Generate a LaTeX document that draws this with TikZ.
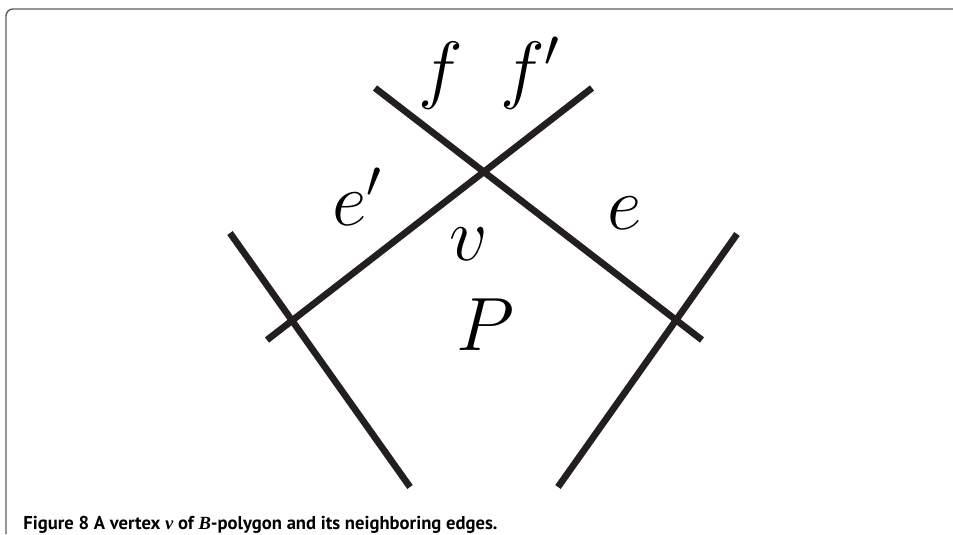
\RequirePackage{fix-cm}
\documentclass[tikz,border=0pt]{standalone}
\usepackage{fontspec}
\setsansfont{PT Sans}
\newfontfamily\capserif{Liberation Serif}
\usetikzlibrary{calc}
\definecolor{inkx}{HTML}{231F20}
\definecolor{framex}{HTML}{5E5E5E}
\tikzset{
  edgeln/.style={line width=3.8pt,inkx},
  lbl/.style={anchor=base,inner sep=0pt,font=\fontsize{43}{50}\selectfont},
  framel/.style={framex,line width=0.8pt,rounded corners=4pt},
  capt/.style={anchor=base west,inner sep=0pt,font=\sffamily\bfseries\fontsize{10.6}{12}\selectfont}
}
\begin{document}
\begin{tikzpicture}[x=0.02cm,y=-0.02cm]
\useasboundingbox (0,0) rectangle (953,534);
% frame round the figure
\draw[framel] (6,534) -- (6,9) -- (953,9);
% vertex v and the edges through it
\coordinate (v) at (484,172);
\coordinate (fa) at (375,88);  \coordinate (ea) at (702,340);
\coordinate (fb) at (592,88);  \coordinate (eb) at (267,340);
\draw[edgeln] (fa)--(ea);
\draw[edgeln] (fb)--(eb);
% neighbouring edges
\coordinate (la) at (230,233); \coordinate (lb) at (410,487);
\coordinate (ra) at (737,234); \coordinate (rb) at (558,487);
\draw[edgeln] (la)--(lb);
\draw[edgeln] (ra)--(rb);
% labels
\node[lbl] (f) at (441,94) {$f$};
\node[lbl] (fp) at (530,94) {$f'$};
\node[lbl] (ep) at (357,225) {$e'$};
\node[lbl] (e) at (625,229) {$e$};
\node[lbl] (vl) at (469,260) {$v$};
\node[lbl] (P) at (485,350) {$P$};
\node[capt] (cap) at (23,529) {Figure 8 A vertex {\capserif\itshape v} of {\capserif\itshape B}-polygon and its neighboring edges.};
\end{tikzpicture}
\end{document}
